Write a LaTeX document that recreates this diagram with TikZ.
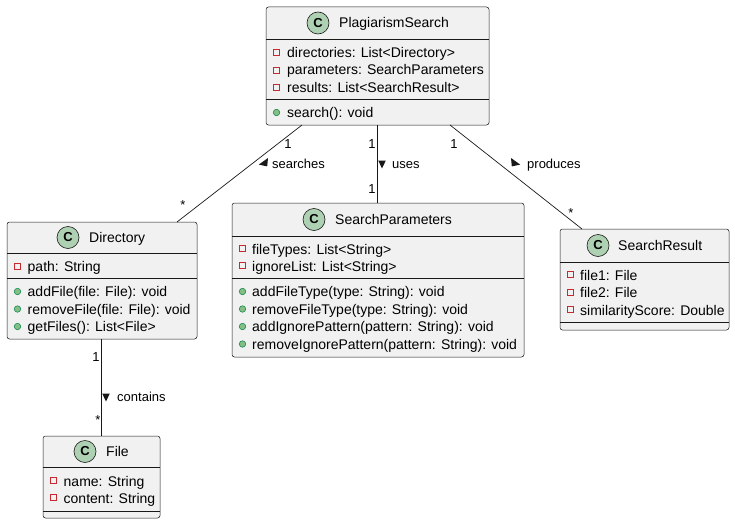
\documentclass[tikz,border=0pt]{standalone}
\usepackage{fontspec}
\setmainfont{Liberation Sans}
\usetikzlibrary{calc}
\definecolor{boxfill}{HTML}{F1F1F1}
\definecolor{boxline}{HTML}{181818}
\definecolor{cfill}{HTML}{ADD1B2}
\definecolor{privred}{HTML}{C82930}
\definecolor{pubfill}{HTML}{84BE84}
\definecolor{publine}{HTML}{038048}
\begin{document}
\begin{tikzpicture}[x=1pt,y=-1pt,
  classbox/.style={draw=boxline, line width=0.5pt, fill=boxfill, rounded corners=2.5pt, inner sep=0pt, outer sep=0pt, anchor=north west},
  sepline/.style={draw=boxline, line width=0.5pt},
  cbadge/.style={circle, draw=boxline, line width=0.6pt, fill=cfill, minimum size=22pt, inner sep=0pt, font=\fontsize{13}{13}\selectfont\bfseries},
  ctitle/.style={anchor=base west, inner sep=0pt, font=\fontsize{14}{16}\selectfont},
  member/.style={anchor=base west, inner sep=0pt, font=\fontsize{14}{16}\selectfont},
  priv/.style={draw=privred, line width=1.1pt, minimum size=6pt, inner sep=0pt},
  pub/.style={circle, draw=publine, fill=pubfill, line width=0.5pt, minimum size=6.5pt, inner sep=0pt},
  edge/.style={draw=boxline, line width=0.7pt},
  mult/.style={anchor=base, inner sep=0pt, font=\fontsize{13}{15}\selectfont},
  elabel/.style={anchor=base west, inner sep=0pt, font=\fontsize{13}{15}\selectfont},
  dirtri/.style={fill=boxline}
]
\useasboundingbox (0,0) rectangle (735,524);

% ---------- PlagiarismSearch ----------
\node[classbox, minimum width=223pt, minimum height=118pt] (ps) at (266,7) {};
\draw[sepline] (266,39) -- (489,39);
\draw[sepline] (266,99) -- (489,99);
\node[cbadge] (psc) at (318,23) {C};
\node[ctitle] (pst) at (339,28) {PlagiarismSearch};
\node[priv] (psm1) at (276.5,52.5) {};
\node[member] (psa1) at (287,57.5) {directories: List<Directory>};
\node[priv] (psm2) at (276.5,70.5) {};
\node[member] (psa2) at (287,75) {parameters: SearchParameters};
\node[priv] (psm3) at (276.5,87.5) {};
\node[member] (psa3) at (287,92.5) {results: List<SearchResult>};
\node[pub] (psm4) at (276.5,112.5) {};
\node[member] (psf1) at (287,117.5) {search(): void};

% ---------- Directory ----------
\node[classbox, minimum width=190pt, minimum height=117pt] (dir) at (7,222) {};
\draw[sepline] (7,253) -- (197,253);
\draw[sepline] (7,278) -- (197,278);
\node[cbadge] (dirc) at (68,237.5) {C};
\node[ctitle] (dirt) at (89,242.5) {Directory};
\node[priv] (dirm1) at (17.5,266.5) {};
\node[member] (dira1) at (27.5,271.5) {path: String};
\node[pub] (dirm2) at (17.5,291.5) {};
\node[member] (dirf1) at (27.5,296.5) {addFile(file: File): void};
\node[pub] (dirm3) at (17.5,309) {};
\node[member] (dirf2) at (27.5,314) {removeFile(file: File): void};
\node[pub] (dirm4) at (17.5,326.5) {};
\node[member] (dirf3) at (27.5,331.5) {getFiles(): List<File>};

% ---------- SearchParameters ----------
\node[classbox, minimum width=292pt, minimum height=154pt] (sp) at (232,203) {};
\draw[sepline] (232,236) -- (524,236);
\draw[sepline] (232,278) -- (524,278);
\node[cbadge] (spc) at (314,219.5) {C};
\node[ctitle] (spt) at (335,224.5) {SearchParameters};
\node[priv] (spm1) at (242.5,248.5) {};
\node[member] (spa1) at (252,254) {fileTypes: List<String>};
\node[priv] (spm2) at (242.5,265.5) {};
\node[member] (spa2) at (252,271) {ignoreList: List<String>};
\node[pub] (spm3) at (242.5,291.5) {};
\node[member] (spf1) at (252,296.5) {addFileType(type: String): void};
\node[pub] (spm4) at (242.5,309) {};
\node[member] (spf2) at (252,314) {removeFileType(type: String): void};
\node[pub] (spm5) at (242.5,326.5) {};
\node[member] (spf3) at (252,331.5) {addIgnorePattern(pattern: String): void};
\node[pub] (spm6) at (242.5,344) {};
\node[member] (spf4) at (252,349) {removeIgnorePattern(pattern: String): void};

% ---------- SearchResult ----------
\node[classbox, minimum width=169pt, minimum height=101pt] (sr) at (560,229) {};
\draw[sepline] (560,262) -- (729,262);
\draw[sepline] (560,322) -- (729,322);
\node[cbadge] (src) at (598,245.5) {C};
\node[ctitle] (srt) at (618,250.5) {SearchResult};
\node[priv] (srm1) at (570.5,274.5) {};
\node[member] (sra1) at (580,280) {file1: File};
\node[priv] (srm2) at (570.5,292.5) {};
\node[member] (sra2) at (580,297.5) {file2: File};
\node[priv] (srm3) at (570.5,309.5) {};
\node[member] (sra3) at (580,315) {similarityScore: Double};

% ---------- File ----------
\node[classbox, minimum width=117pt, minimum height=82pt] (file) at (43,436) {};
\draw[sepline] (43,467) -- (160,467);
\draw[sepline] (43,511) -- (160,511);
\node[cbadge] (filec) at (85,451.5) {C};
\node[ctitle] (filet) at (106,456.5) {File};
\node[priv] (filem1) at (53.5,480.5) {};
\node[member] (filea1) at (63.5,486) {name: String};
\node[priv] (filem2) at (53.5,497.5) {};
\node[member] (filea2) at (63.5,503) {content: String};

% ---------- connectors ----------
\draw[edge] ([xshift=36pt]ps.south west) -- ([xshift=170pt]dir.north west);
\draw[edge] ([xshift=111pt]ps.south west) -- ([xshift=145pt]sp.north west);
\draw[edge] ([xshift=184pt]ps.south west) -- ([xshift=22pt]sr.north west);
\draw[edge] ([xshift=94pt]dir.south west) -- ([xshift=58pt]file.north west);

% ---------- labels ----------
\node[mult] (m1) at (288,148) {1};
\node[mult] (m2) at (183,209) {*};
\fill[dirtri] (268,158) -- (258.8,164.6) -- (267.2,166.4) -- cycle;
\node[elabel] (l1) at (272,168.5) {searches};

\node[mult] (m3) at (372,148) {1};
\node[mult] (m4) at (372,193) {1};
\fill[dirtri] (382,168.5) -- (378.2,160.5) -- (385.8,160.5) -- cycle;
\node[elabel] (l2) at (392,168.5) {uses};

\node[mult] (m5) at (454,148) {1};
\node[mult] (m6) at (571,217) {*};
\fill[dirtri] (511,158) -- (520.2,164.6) -- (511.8,166.4) -- cycle;
\node[elabel] (l3) at (527,168.5) {produces};

\node[mult] (m7) at (96,361) {1};
\node[mult] (m8) at (98,424) {*};
\fill[dirtri] (106,401.5) -- (102.2,393.5) -- (109.8,393.5) -- cycle;
\node[elabel] (l4) at (117,401.5) {contains};
\end{tikzpicture}
\end{document}
